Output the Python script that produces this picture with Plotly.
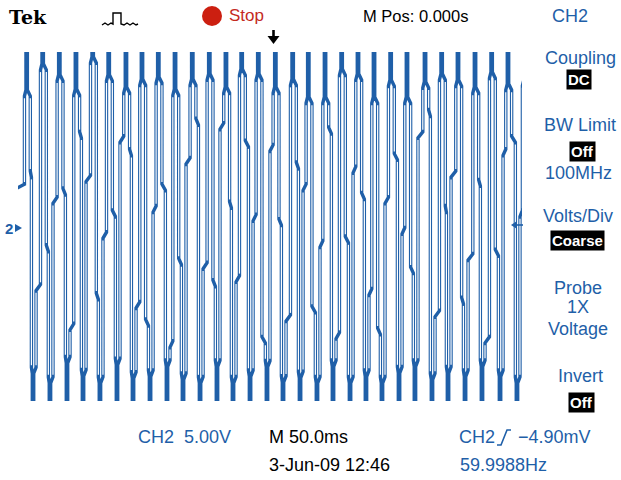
import plotly.graph_objects as go

# ---- data (time in ms from trigger, level in divisions) ----
# x-positions where the falling and rising transitions meet at the top of the screen
top_t_ms = [-241.4, -225.5, -209.0, -192.5, -175.9, -160.0, -142.9, -127.0, -110.8, -94.2,
            -77.1, -60.2, -43.7, -28.1, -11.6, 5.3, 22.5, 38.0, 54.6, 71.1,
            87.3, 103.2, 119.7, 135.9, 153.8, 170.3, 186.5, 203.4, 219.9, 236.1, 252.6]
# x-positions where they meet at the bottom of the screen (first one is off-screen)
bot_t_ms = [-257.9, -235.1, -218.3, -201.4, -185.5, -168.7, -151.8, -135.9, -119.0, -102.2,
            -86.3, -69.4, -52.6, -36.7, -19.8, -3.0, 12.9, 29.8, 46.6, 62.5,
            79.4, 95.2, 111.1, 128.0, 143.8, 160.7, 176.6, 193.5, 210.3, 228.2, 245.0]
# level where the two transitions separate near the top
top_split_div = [3.06, 3.66, 3.41, 3.08, 3.82, 3.41, 3.13, 3.31, 3.36, 3.08,
                 3.31, 3.43, 3.13, 3.54, 3.43, 3.13, 3.31, 2.90, 2.90, 3.54,
                 3.43, 2.90, 3.29, 2.90, 3.25, 3.43, 3.29, 3.13, 3.47, 3.20, 3.30]
# level where the two transitions separate near the bottom
bot_split_div = [-3.30, -3.30, -3.52, -3.06, -3.36, -3.52, -3.10, -3.41, -3.37, -3.14,
                 -3.44, -3.52, -3.14, -3.52, -3.37, -3.15, -3.50, -3.40, -3.52, -3.14,
                 -3.52, -3.37, -3.52, -3.29, -3.14, -3.44, -3.29, -3.37, -3.14, -3.37, -3.52]
# mid-screen step on each falling transition
fall_step_div = [1.2, -0.5, 0.8, 2.1, -1.6, 0.3, 1.7, -2.2, 0.9, -0.8,
                 2.4, -1.3, 0.5, 1.9, -2.6, 0.1, 1.4, -1.9, 2.2, -0.3,
                 0.7, -2.4, 1.6, -1.0, 2.6, 0.4, -1.7, 1.0, -0.6, 2.0]
# mid-screen step on each rising transition
rise_step_div = [0.9, -1.4, 0.6, -2.3, 1.1, -0.2, 2.0, -1.8, 0.4, -2.7,
                 1.5, -0.9, 2.3, -1.2, 0.2, 1.8, -2.1, 0.9, -0.4, -2.5,
                 1.3, -1.5, 0.6, -0.1, 2.1, -2.0, 1.2, -0.7, -2.6, 1.7, 0.3]

W, H = 621, 480
BLUE = "#1f5fa8"
TFONT = "Liberation Sans, Arial, sans-serif"
OFF = 0.7          # half-gap between the two overlapping strokes (ms)
FALL_SPLIT = 3.6   # sideways step of the falling stroke where it leaves the top (ms)
FALL_END = 1.6     # falling stroke sits this far left of the bottom meeting point (ms)
RISE_SPLIT = 3.0   # sideways step of the rising stroke where it leaves the bottom (ms)
RISE_END = 2.2     # rising stroke sits this far left of the next top meeting point (ms)
K = 0.07           # half-height of the slanted kinks (div)
TOP, BOT = 4.6, -4.6

bx, by = [], []    # full trace
wx, wy = [], []    # hollow middle parts (white core, vertical runs only)
n = len(fall_step_div)
for m in range(-1, n):
    b = bot_t_ms[m + 1]
    tn = top_t_ms[m + 1]
    lo, hi = bot_split_div[m + 1], top_split_div[m + 1]
    rs = rise_step_div[m + 1]
    x1, x2 = b + RISE_SPLIT, tn - RISE_END
    # rising stroke: bottom meeting point -> next top meeting point
    bx += [b + OFF, b + OFF, x1, x1, x2, x2, tn - OFF, tn - OFF]
    by += [BOT, lo - K, lo + K, rs - K, rs + K, hi - K, hi + K, TOP]
    wx += [x1, x1, None, x2, x2, None]
    wy += [lo + K + 0.05, rs - K - 0.05, None, rs + K + 0.05, hi - K - 0.05, None]
    if m + 1 < n:
        t = top_t_ms[m + 1]
        b2 = bot_t_ms[m + 2]
        hi2, lo2 = top_split_div[m + 1], bot_split_div[m + 2]
        fs = fall_step_div[m + 1]
        y1, y2 = t + FALL_SPLIT, b2 - FALL_END
        # falling stroke: top meeting point -> next bottom meeting point
        bx += [t + OFF, t + OFF, y1, y1, y2, y2, b2 - OFF, b2 - OFF]
        by += [TOP, hi2 + K, hi2 - K, fs + K, fs - K, lo2 + K, lo2 - K, BOT]
        wx += [y1, y1, None, y2, y2, None]
        wy += [hi2 - K - 0.05, fs + K + 0.05, None, fs - K - 0.05, lo2 + K + 0.05, None]

fig = go.Figure()
fig.add_trace(go.Scatter(x=bx, y=by, mode="lines",
                         line=dict(color=BLUE, width=3.4), hoverinfo="skip",
                         showlegend=False))
fig.add_trace(go.Scatter(x=wx, y=wy, mode="lines",
                         line=dict(color="white", width=1.2), hoverinfo="skip",
                         showlegend=False))

def px(x):
    return x / W

def py(y):
    return 1 - y / H

fig.update_layout(
    width=W, height=H, margin=dict(l=0, r=0, t=0, b=0),
    paper_bgcolor="white", plot_bgcolor="white", showlegend=False,
    xaxis=dict(domain=[px(18), px(522)], range=[-250, 250], visible=False, fixedrange=True),
    yaxis=dict(domain=[py(401), py(52)], range=[-4, 4], visible=False, fixedrange=True),
)

ann = []
def txt(x, y, s, color="black", size=18, font=TFONT, xanchor="left", **kw):
    ann.append(dict(x=px(x), y=py(y), xref="paper", yref="paper", text=s,
                    showarrow=False, xanchor=xanchor, yanchor="middle",
                    font=dict(color=color, size=size, family=font), **kw))

def box(x, y, s, size=15):
    ann.append(dict(x=px(x), y=py(y), xref="paper", yref="paper", text="<b>" + s + "</b>",
                    showarrow=False, xanchor="center", yanchor="middle",
                    bgcolor="black", borderpad=1,
                    font=dict(color="white", size=size, family=TFONT)))

# header
txt(7, 17, "<b>Tek</b>", size=19, font="DejaVu Serif, Liberation Serif, serif")
txt(227, 16, "Stop", color="#c42a1e", size=17)
txt(361, 16, "M Pos: 0.000s", size=16.5)
txt(570, 16, "CH2", color=BLUE, xanchor="center")

# right menu
txt(580, 58, "Coupling", color=BLUE, xanchor="center")
box(579, 80, "DC")
txt(580, 125, "BW Limit", color=BLUE, xanchor="center")
box(582, 151, "Off")
txt(578, 173, "100MHz", color=BLUE, xanchor="center")
txt(578, 216, "Volts/Div", color=BLUE, xanchor="center")
box(577, 240, "Coarse")
txt(578, 288, "Probe", color=BLUE, xanchor="center")
txt(578, 307, "1X", color=BLUE, xanchor="center")
txt(578, 329, "Voltage", color=BLUE, xanchor="center")
txt(580, 376, "Invert", color=BLUE, xanchor="center")
box(581, 402, "Off")

# bottom readouts
txt(136, 437, "CH2  5.00V", color=BLUE)
txt(267, 437, "M 50.0ms", color="black")
txt(267, 465, "3-Jun-09 12:46", color="black")
txt(457, 437, "CH2", color=BLUE)
txt(516, 437, "−4.90mV", color=BLUE)
txt(458, 465, "59.9988Hz", color=BLUE)

# channel marker
txt(3, 228, "<b>2</b>", color=BLUE, size=15)

shapes = [
    # stop dot
    dict(type="circle", xref="paper", yref="paper", x0=px(202), x1=px(222), y0=py(26), y1=py(6),
         fillcolor="#cc1f10", line=dict(width=0)),
    # trigger position arrow
    dict(type="line", xref="paper", yref="paper", x0=px(273.5), x1=px(273.5), y0=py(30), y1=py(38),
         line=dict(color="black", width=2.6)),
    dict(type="path", xref="paper", yref="paper",
         path=f"M {px(267.5)} {py(36)} L {px(279.5)} {py(36)} L {px(273.5)} {py(44)} Z",
         fillcolor="black", line=dict(width=0)),
    # acquisition icon
    dict(type="path", xref="paper", yref="paper",
         path=(f"M {px(102)} {py(25)} L {px(105)} {py(23)} L {px(108)} {py(25)} L {px(111)} {py(23)} "
               f"L {px(113)} {py(24)} L {px(113)} {py(13)} L {px(121)} {py(13)} L {px(121)} {py(24)} "
               f"L {px(124)} {py(25)} L {px(127)} {py(23)} L {px(130)} {py(25)} L {px(133)} {py(23)} "
               f"L {px(136)} {py(25)} L {px(138)} {py(24)}"),
         line=dict(color="black", width=1.4)),
    # rising-edge trigger slope symbol
    dict(type="path", xref="paper", yref="paper",
         path=(f"M {px(497)} {py(445)} L {px(501)} {py(445)} L {px(507)} {py(430)} "
               f"L {px(511)} {py(430)}"),
         line=dict(color=BLUE, width=1.6)),
    # channel marker arrow
    dict(type="path", xref="paper", yref="paper",
         path=f"M {px(15)} {py(224)} L {px(22)} {py(228)} L {px(15)} {py(232)} Z",
         fillcolor=BLUE, line=dict(width=0)),
    # trigger level arrow (right edge)
    dict(type="line", xref="paper", yref="paper", x0=px(513), x1=px(523), y0=py(225), y1=py(225),
         line=dict(color=BLUE, width=1.6)),
    dict(type="path", xref="paper", yref="paper",
         path=f"M {px(511)} {py(225)} L {px(517)} {py(221)} L {px(517)} {py(229)} Z",
         fillcolor=BLUE, line=dict(width=0)),
]

fig.update_layout(annotations=ann, shapes=shapes)
fig.write_html("out.html", config={"displayModeBar": False, "staticPlot": True},
               post_script="document.body.style.margin='0';document.body.style.padding='0';")
